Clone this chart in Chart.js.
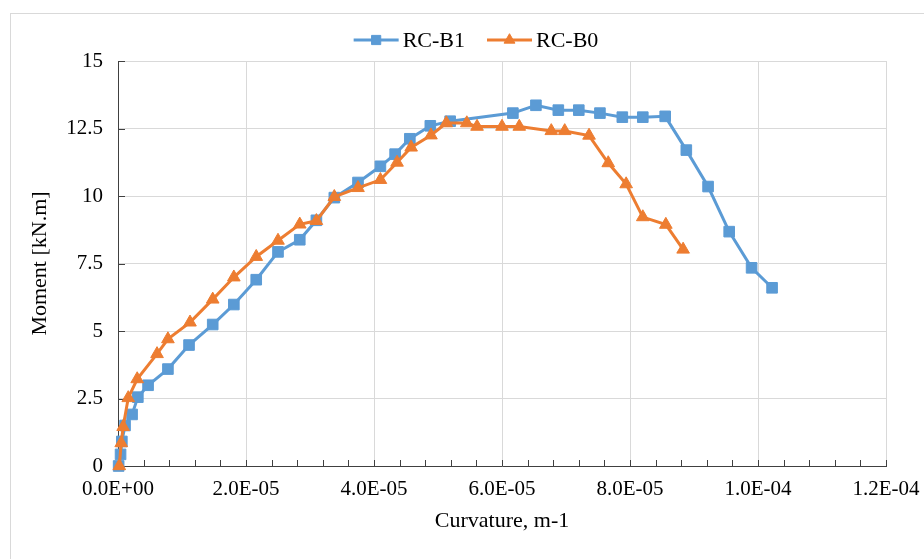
<!DOCTYPE html>
<html>
<head>
<meta charset="utf-8">
<script src="https://cdn.jsdelivr.net/npm/chart.js@4.4.1/dist/chart.umd.min.js"></script>
<style>
  html, body { margin: 0; padding: 0; background: #ffffff; overflow: hidden; }
  #wrap { position: relative; width: 924px; height: 559px; }
</style>
</head>
<body>
<div id="wrap"><canvas id="chart" width="924" height="559"></canvas></div>
<script>
// Moment–curvature data for the two beams
const curvatureB1 = [1e-7, 4e-7, 6e-7, 1.1e-6, 2.2e-6, 3.1e-6, 4.7e-6, 7.8e-6, 1.11e-5, 1.48e-5,
  1.81e-5, 2.16e-5, 2.50e-5, 2.84e-5, 3.10e-5, 3.38e-5, 3.75e-5, 4.10e-5, 4.33e-5, 4.56e-5,
  4.88e-5, 5.19e-5, 6.17e-5, 6.53e-5, 6.88e-5, 7.20e-5, 7.53e-5, 7.88e-5, 8.20e-5, 8.55e-5,
  8.88e-5, 9.22e-5, 9.55e-5, 9.90e-5, 1.022e-4];
const momentB1 = [0, 0.43, 0.91, 1.5, 1.91, 2.55, 2.99, 3.59, 4.48, 5.24,
  5.98, 6.9, 7.93, 8.38, 9.1, 9.94, 10.5, 11.1, 11.55, 12.12,
  12.6, 12.77, 13.07, 13.36, 13.18, 13.18, 13.07, 12.92, 12.92, 12.95,
  11.7, 10.35, 8.68, 7.34, 6.6];

const curvatureB0 = [2e-7, 5e-7, 8e-7, 1.6e-6, 3.0e-6, 6.1e-6, 7.8e-6, 1.125e-5, 1.48e-5, 1.81e-5,
  2.16e-5, 2.50e-5, 2.84e-5, 3.10e-5, 3.38e-5, 3.75e-5, 4.10e-5, 4.36e-5, 4.58e-5, 4.89e-5,
  5.13e-5, 5.45e-5, 5.61e-5, 6.00e-5, 6.27e-5, 6.77e-5, 6.98e-5, 7.36e-5, 7.66e-5, 7.94e-5,
  8.20e-5, 8.56e-5, 8.83e-5];
const momentB0 = [0, 0.85, 1.45, 2.52, 3.22, 4.15, 4.7, 5.32, 6.17, 6.99,
  7.75, 8.35, 8.95, 9.08, 9.97, 10.3, 10.6, 11.24, 11.8, 12.25,
  12.7, 12.7, 12.57, 12.57, 12.57, 12.41, 12.41, 12.24, 11.22, 10.44,
  9.22, 8.94, 8.02];

const seriesNames = ['RC-B1', 'RC-B0'];
const xTicks = [0, 2e-5, 4e-5, 6e-5, 8e-5, 1e-4, 1.2e-4];
const yTicks = [0, 2.5, 5, 7.5, 10, 12.5, 15];

const BLUE = '#5B9BD5';
const ORANGE = '#ED7D31';
const FONT = "'Liberation Serif', 'Times New Roman', serif";

function toPoints(xs, ys) { return xs.map((x, i) => ({ x: x, y: ys[i] })); }

// 2.0E-05 style labels
function sciLabel(v) {
  if (Math.abs(v) < 1e-12) return '0.0E+00';
  const exp = Math.floor(Math.log10(Math.abs(v)) + 1e-9);
  const mant = v / Math.pow(10, exp);
  const sign = exp < 0 ? '-' : '+';
  return mant.toFixed(1) + 'E' + sign + String(Math.abs(exp)).padStart(2, '0');
}

// Frame, tick marks and legend
const decorations = {
  id: 'decorations',
  beforeDraw(chart) {
    const ctx = chart.ctx;
    ctx.save();
    ctx.fillStyle = '#ffffff';
    ctx.fillRect(0, 0, chart.width, chart.height);
    ctx.strokeStyle = '#d9d9d9';
    ctx.lineWidth = 1;
    ctx.strokeRect(10.5, 13.5, 2000, 2000);
    ctx.restore();
  },
  beforeDatasetsDraw(chart) {
    const ctx = chart.ctx;
    const xs = chart.scales.x, ys = chart.scales.y;
    const area = chart.chartArea;
    ctx.save();
    ctx.strokeStyle = '#404040';
    ctx.lineWidth = 1;
    ctx.beginPath();
    // minor + major ticks on x axis, pointing inward
    for (let i = 0; i < xTicks.length - 1; i++) {
      const a = xTicks[i], b = xTicks[i + 1];
      for (let k = 0; k < 5; k++) {
        const px = Math.round(xs.getPixelForValue(a + (b - a) * k / 5)) + 0.5;
        ctx.moveTo(px, area.bottom);
        ctx.lineTo(px, area.bottom - 6);
      }
    }
    const pxEnd = Math.round(xs.getPixelForValue(xTicks[xTicks.length - 1])) + 0.5;
    ctx.moveTo(pxEnd, area.bottom);
    ctx.lineTo(pxEnd, area.bottom - 6);
    // y axis ticks
    yTicks.forEach(v => {
      const py = Math.round(ys.getPixelForValue(v)) + 0.5;
      ctx.moveTo(area.left, py);
      ctx.lineTo(area.left + 7, py);
    });
    ctx.stroke();
    ctx.restore();
  },
  afterDraw(chart) {
    const ctx = chart.ctx;
    ctx.save();
    ctx.font = '22px ' + FONT;
    ctx.textBaseline = 'middle';
    const y = 40;
    const lineLen = 45, gapText = 4, gapItem = 22;
    const items = chart.data.datasets.map(ds => ({
      ds: ds, w: lineLen + gapText + ctx.measureText(ds.label).width
    }));
    const total = items.reduce((s, it) => s + it.w, 0) + gapItem * (items.length - 1);
    let x = 476 - total / 2;
    items.forEach(it => {
      const ds = it.ds;
      ctx.strokeStyle = ds.borderColor;
      ctx.lineWidth = 3;
      ctx.beginPath();
      ctx.moveTo(x, y);
      ctx.lineTo(x + lineLen, y);
      ctx.stroke();
      ctx.fillStyle = ds.pointBackgroundColor;
      ctx.strokeStyle = ds.pointBackgroundColor;
      ctx.lineWidth = 1;
      Chart.helpers.drawPoint(ctx, {
        pointStyle: ds.pointStyle, radius: ds.pointRadius - 1, borderWidth: 1
      }, x + lineLen / 2, y);
      ctx.fillStyle = '#000000';
      ctx.fillText(ds.label, x + lineLen + gapText, y + 1);
      x += it.w + gapItem;
    });
    ctx.restore();
  }
};

new Chart(document.getElementById('chart'), {
  type: 'scatter',
  data: {
    datasets: [
      {
        label: seriesNames[0],
        data: toPoints(curvatureB1, momentB1),
        showLine: true,
        borderColor: BLUE,
        backgroundColor: BLUE,
        borderWidth: 3,
        pointStyle: 'rect',
        pointRadius: 7.5,
        pointBackgroundColor: BLUE,
        pointBorderColor: BLUE,
        pointBorderWidth: 1,
        tension: 0,
        clip: false,
        order: 1
      },
      {
        label: seriesNames[1],
        data: toPoints(curvatureB0, momentB0),
        showLine: true,
        borderColor: ORANGE,
        backgroundColor: ORANGE,
        borderWidth: 3,
        pointStyle: 'triangle',
        pointRadius: 7.3,
        pointBackgroundColor: ORANGE,
        pointBorderColor: ORANGE,
        pointBorderWidth: 1,
        tension: 0,
        clip: false,
        order: 0
      }
    ]
  },
  options: {
    responsive: false,
    animation: false,
    devicePixelRatio: 1,
    layout: { padding: { top: 61, right: 38, bottom: 20, left: 20 } },
    plugins: {
      legend: { display: false },
      title: { display: false },
      tooltip: { enabled: false }
    },
    scales: {
      x: {
        type: 'linear',
        min: xTicks[0],
        max: xTicks[xTicks.length - 1],
        afterBuildTicks(scale) { scale.ticks = xTicks.map(v => ({ value: v })); },
        afterFit(scale) {
          scale.height = 73;
          scale.paddingLeft = 0;
          scale.paddingRight = 0;
        },
        grid: { color: '#d9d9d9', lineWidth: 1, drawTicks: false },
        border: { display: true, color: '#404040', width: 1 },
        ticks: {
          padding: 11,
          color: '#000000',
          maxRotation: 0,
          autoSkip: false,
          font: { family: FONT, size: 21 },
          callback: v => sciLabel(v)
        },
        title: {
          display: true,
          text: 'Curvature, m-1',
          color: '#000000',
          font: { family: FONT, size: 22 },
          padding: { top: 0, bottom: 5 }
        }
      },
      y: {
        type: 'linear',
        min: yTicks[0],
        max: yTicks[yTicks.length - 1],
        afterBuildTicks(scale) { scale.ticks = yTicks.map(v => ({ value: v })); },
        afterFit(scale) {
          scale.width = 98;
          scale.paddingTop = 0;
          scale.paddingBottom = 0;
        },
        grid: { color: '#d9d9d9', lineWidth: 1, drawTicks: false },
        border: { display: true, color: '#404040', width: 1 },
        ticks: {
          padding: 15,
          color: '#000000',
          autoSkip: false,
          font: { family: FONT, size: 21 },
          callback: v => String(v)
        },
        title: {
          display: true,
          text: 'Moment [kN.m]',
          color: '#000000',
          font: { family: FONT, size: 22 },
          padding: { top: 7, bottom: 0 }
        }
      }
    }
  },
  plugins: [decorations]
});
</script>
</body>
</html>
